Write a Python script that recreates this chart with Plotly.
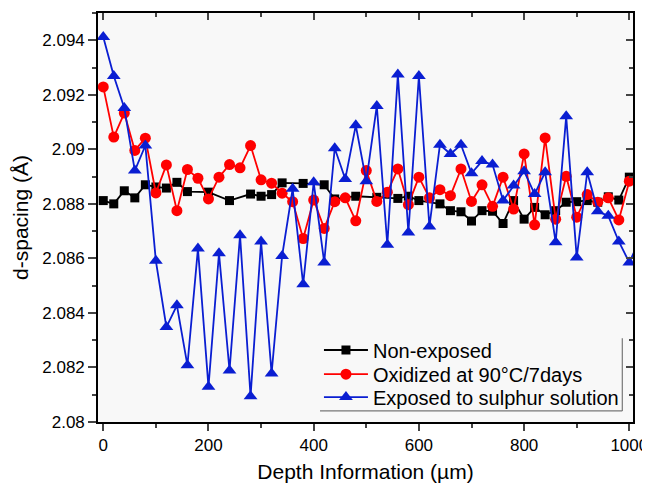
import plotly.graph_objects as go

depth = [i * 20 for i in range(51)]
depth_blue = depth + [1020]

non_exposed = [2.08812, 2.08800, 2.08848, 2.08822, 2.08870, 2.08862, 2.08858, 2.08879, 2.08845, None,
               2.08843, None, 2.08812, None, 2.08836, 2.08828, 2.08834, 2.08877, None, 2.08875,
               None, 2.08870, 2.08818, None, 2.08828, None, 2.08824, None, 2.08820, 2.08828,
               2.08812, None, 2.08800, 2.08775, 2.08771, 2.08737, 2.08775, 2.08773, 2.08728, 2.08812,
               2.08744, 2.08787, 2.08760, 2.08775, 2.08806, 2.08808, 2.08812, 2.08806, 2.08826, 2.08814,
               2.08898]

oxidized = [2.09229, 2.09045, 2.09133, 2.08996, 2.09041, 2.08840, 2.08943, 2.08775, 2.08926, 2.08894,
            2.08818, 2.08898, 2.08944, 2.08932, 2.09014, 2.08888, 2.08876, 2.08839, 2.08808, 2.08673,
            2.08814, 2.08710, 2.08808, 2.08822, 2.08738, 2.08922, 2.08809, 2.08843, 2.08928, 2.08797,
            2.08898, 2.08822, 2.08852, 2.08830, 2.08928, 2.08809, 2.08870, 2.08791, 2.08898, 2.08781,
            2.08983, 2.08723, 2.09042, 2.08744, 2.08901, 2.08751, 2.08834, 2.08806, 2.08822, 2.08741,
            2.08883]

sulphur = [2.09412, 2.09269, 2.09152, 2.08922, 2.09014, 2.08591, 2.08348, 2.08428, 2.08208, 2.08636,
           2.08129, 2.08619, 2.08189, 2.08685, 2.08094, 2.08662, 2.08178, 2.08609, 2.08855, 2.08505,
           2.08879, 2.08585, 2.09004, 2.08891, 2.09088, 2.08883, 2.09159, 2.08650, 2.09274, 2.08695,
           2.09269, 2.08717, 2.09017, 2.08983, 2.09017, 2.08912, 2.08957, 2.08944, 2.08812, 2.08867,
           2.08920, 2.08836, 2.08916, 2.08659, 2.09121, 2.08603, 2.08916, 2.08773, 2.08756, 2.08662,
           2.08585, 2.08670]

names = ["Non-exposed", "Oxidized at 90°C/7days", "Exposed to sulphur solution"]
x_ticks = [0, 200, 400, 600, 800, 1000]
y_ticks = [2.08, 2.082, 2.084, 2.086, 2.088, 2.09, 2.092, 2.094]
y_tick_text = ["2.08", "2.082", "2.084", "2.086", "2.088", "2.09", "2.092", "2.094"]

XR = [-10, 1007]
YR = [2.08, 2.095]

FONT = "Liberation Sans, Arial, sans-serif"
BLUE = "#0a1ed2"

fig = go.Figure()
fig.add_trace(go.Scatter(x=depth, y=non_exposed, name=names[0], mode="lines+markers",
                         connectgaps=True, legend="legend",
                         line=dict(color="#000000", width=1.8),
                         marker=dict(symbol="square", size=9, color="#000000")))
fig.add_trace(go.Scatter(x=depth, y=oxidized, name=names[1], mode="lines+markers",
                         legend="legend2",
                         line=dict(color="#ff0000", width=1.8),
                         marker=dict(symbol="circle", size=11, color="#ff0000")))
fig.add_trace(go.Scatter(x=depth_blue, y=sulphur, name=names[2], mode="lines+markers",
                         legend="legend3",
                         line=dict(color=BLUE, width=1.8),
                         marker=dict(symbol="triangle-up", size=12, color=BLUE)))
# empty trace to activate mirrored axes with inside ticks
fig.add_trace(go.Scatter(x=[], y=[], xaxis="x2", yaxis="y2", showlegend=False, hoverinfo="skip"))

leg_common = dict(x=0.413, xanchor="left", yanchor="middle", bgcolor="rgba(0,0,0,0)",
                  borderwidth=0, font=dict(size=20, family=FONT, color="#000000"), itemwidth=44)

fig.update_layout(
    width=642, height=478,
    margin=dict(l=90, r=17, t=5, b=64, autoexpand=False),
    paper_bgcolor="#ffffff",
    plot_bgcolor="#f8f8f8",
    font=dict(family=FONT, color="#000000", size=17),
    showlegend=True,
    legend=dict(y=0.176, **leg_common),
    legend2=dict(y=0.117, **leg_common),
    legend3=dict(y=0.061, **leg_common),
    xaxis=dict(range=XR, tickvals=x_ticks, ticks="outside", ticklen=7, tickwidth=1.5,
               showline=True, linecolor="#000000", linewidth=1.6, mirror=True,
               showgrid=False, zeroline=False, automargin=False,
               minor=dict(dtick=100, tick0=0, ticks="outside", ticklen=4, tickwidth=1.5, showgrid=False),
               tickfont=dict(size=17),
               title=dict(text="Depth Information (µm)", font=dict(size=21), standoff=10)),
    yaxis=dict(range=YR, tickvals=y_ticks, ticktext=y_tick_text, ticks="outside", ticklen=8, tickwidth=1.5,
               showline=True, linecolor="#000000", linewidth=1.6, mirror=True,
               showgrid=False, zeroline=False, automargin=False,
               minor=dict(dtick=0.001, tick0=2.08, ticks="outside", ticklen=4, tickwidth=1.5, showgrid=False),
               tickfont=dict(size=17),
               title=dict(text="d-spacing (Å)", font=dict(size=21), standoff=8)),
    xaxis2=dict(range=XR, overlaying="x", side="top", anchor="y", tickvals=x_ticks,
                ticks="inside", ticklen=7, tickwidth=1.5, showticklabels=False,
                showgrid=False, zeroline=False, automargin=False,
                minor=dict(dtick=100, tick0=0, ticks="inside", ticklen=4, tickwidth=1.5, showgrid=False)),
    yaxis2=dict(range=YR, overlaying="y", side="right", anchor="x", tickvals=y_ticks,
                ticks="inside", ticklen=7, tickwidth=1.5, showticklabels=False,
                showgrid=False, zeroline=False, automargin=False,
                minor=dict(dtick=0.001, tick0=2.08, ticks="inside", ticklen=4, tickwidth=1.5, showgrid=False)),
    shapes=[
        dict(type="line", xref="paper", yref="paper", x0=0.415, x1=0.98, y0=0.027, y1=0.027,
             line=dict(color="#777777", width=1.2)),
        dict(type="line", xref="paper", yref="paper", x0=0.98, x1=0.98, y0=0.027, y1=0.205,
             line=dict(color="#777777", width=1.2)),
    ],
)

fig.write_html("out.html")
